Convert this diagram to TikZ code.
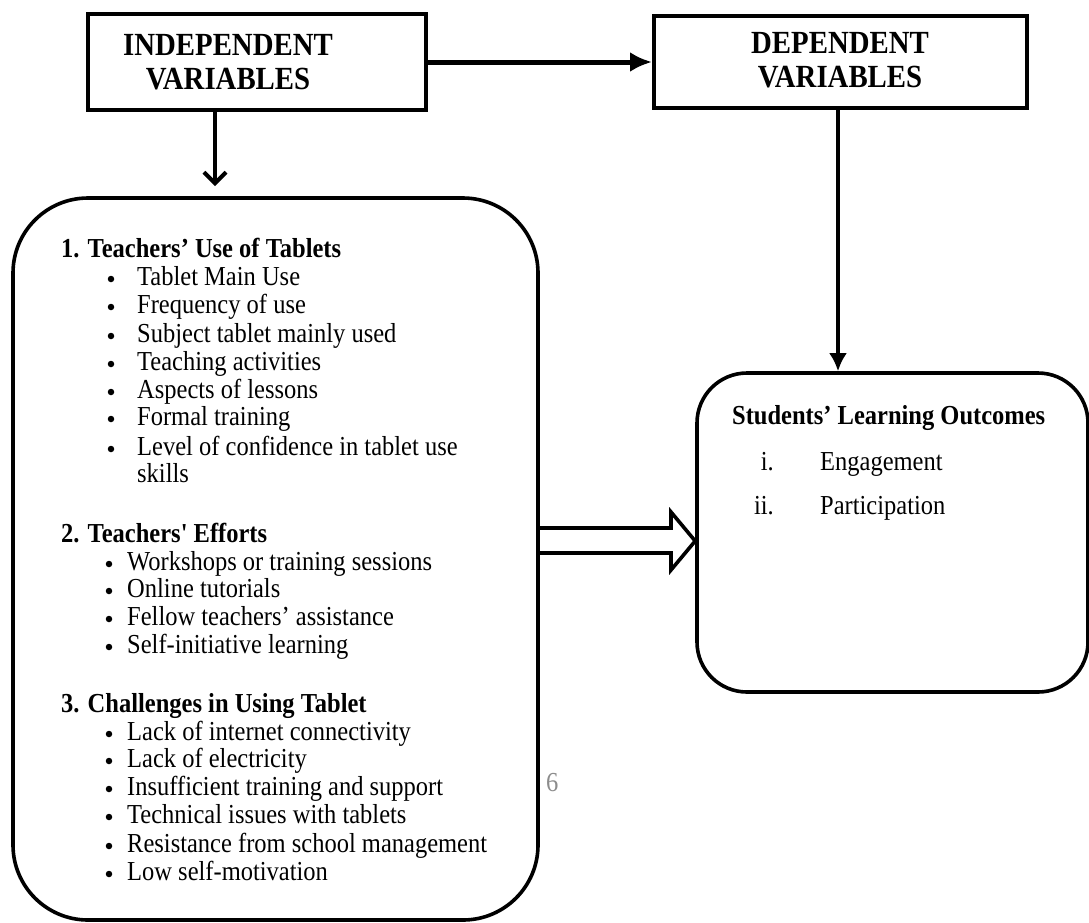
\documentclass[tikz,border=0pt]{standalone}
\usepackage{fontspec}
\usepackage{graphicx}
\setmainfont{Liberation Serif}
\usetikzlibrary{arrows.meta}
\newcommand{\tx}[1]{\scalebox{1}[1.12]{#1}}
\begin{document}
\begin{tikzpicture}[x=1pt,y=-1pt,
  box/.style={draw,line width=4pt,rectangle,inner sep=0pt},
  rbox/.style={draw,line width=3.6pt,rectangle,inner sep=0pt},
  title/.style={anchor=base,font=\fontsize{28.8}{34}\selectfont\bfseries,inner sep=0pt},
  head/.style={anchor=base west,font=\fontsize{24.5}{28}\selectfont\bfseries,inner sep=0pt},
  item/.style={anchor=base west,font=\fontsize{24.5}{28}\selectfont,inner sep=0pt},
  num/.style={anchor=base east,font=\fontsize{24.5}{28}\selectfont,inner sep=0pt},
  bul/.style={circle,fill,inner sep=0pt,minimum size=6.5pt},
  conn/.style={line width=4pt},
]
\useasboundingbox (0,0) rectangle (1089,922);

% top boxes
\node[box,minimum width=338pt,minimum height=96pt] (indep) at (257,62) {};
\node[box,minimum width=373pt,minimum height=92pt] (dep) at (840.5,62) {};
\node[title] (t1) at (228,55) {\tx{INDEPENDENT}};
\node[title] (t2) at (228,89) {\tx{VARIABLES}};
\node[title] (t3) at (840,53) {\tx{DEPENDENT}};
\node[title] (t4) at (840,87) {\tx{VARIABLES}};

% big boxes
\node[rbox,rounded corners=75pt,minimum width=525pt,minimum height=722pt] (big) at (275.5,559) {};
\node[rbox,rounded corners=50pt,minimum width=391pt,minimum height=319pt] (outc) at (892.5,532.5) {};

% connectors
\draw[line width=5pt,-{Latex[length=22pt,width=20pt]}] (indep.east) -- (dep.west);
\coordinate (a1) at (215,186);
\draw[conn,-{Straight Barb[length=11pt,width=22pt]}] (indep.south -| a1) -- (a1);
\coordinate (d1) at (838,0);
\draw[conn,-{Latex[length=18pt,width=18pt]}] (dep.south -| d1) -- (outc.north -| d1);

% hollow arrow
\coordinate (h1) at (671,528);
\coordinate (h2) at (671,553);
\coordinate (h3) at (671,512);
\coordinate (h4) at (671,570);
\coordinate (h5) at (0,541);
\draw[line width=3.6pt,line join=miter] (big.east |- h1) -- (h1) -- (h3) -- (outc.west |- h5) -- (h4) -- (h2) -- (big.east |- h2);

% list 1
\node[head] (h1t) at (61,257) {\tx{1. Teachers' Use of Tablets}};
\node[item] (i11) at (137,285) {\tx{Tablet Main Use}};
\node[item] (i12) at (137,313) {\tx{Frequency of use}};
\node[item] (i13) at (137,342) {\tx{Subject tablet mainly used}};
\node[item] (i14) at (137,370) {\tx{Teaching activities}};
\node[item] (i15) at (137,398) {\tx{Aspects of lessons}};
\node[item] (i16) at (137,425) {\tx{Formal training}};
\node[item] (i17) at (137,455) {\tx{Level of confidence in tablet use}};
\node[item] (i18) at (137,482) {\tx{skills}};
\foreach \y [count=\k] in {285,313,342,370,398,425,455}
  \node[bul] (b1\k) at (111,\y-6) {};

% list 2
\node[head] (h2t) at (61,542) {\tx{2. Teachers\textquotesingle\ Efforts}};
\node[item] (i21) at (127,570) {\tx{Workshops or training sessions}};
\node[item] (i22) at (127,597) {\tx{Online tutorials}};
\node[item] (i23) at (127,625) {\tx{Fellow teachers' assistance}};
\node[item] (i24) at (127,653) {\tx{Self-initiative learning}};
\foreach \y [count=\k] in {570,597,625,653}
  \node[bul] (b2\k) at (109,\y-6) {};

% list 3
\node[head] (h3t) at (61,712) {\tx{3. Challenges in Using Tablet}};
\node[item] (i31) at (127,740) {\tx{Lack of internet connectivity}};
\node[item] (i32) at (127,767) {\tx{Lack of electricity}};
\node[item] (i33) at (127,795) {\tx{Insufficient training and support}};
\node[item] (i34) at (127,823) {\tx{Technical issues with tablets}};
\node[item] (i35) at (127,852) {\tx{Resistance from school management}};
\node[item] (i36) at (127,880) {\tx{Low self-motivation}};
\foreach \y [count=\k] in {740,767,795,823,852,880}
  \node[bul] (b3\k) at (109,\y-6) {};

% page number fragment
\node[item,text=black!45] (pg) at (546,791) {\tx{6}};

% outcomes
\node[head] (oh) at (732,424) {\tx{Students' Learning Outcomes}};
\node[num] (n1) at (774,470) {\tx{i.}};
\node[item] (o1) at (820,470) {\tx{Engagement}};
\node[num] (n2) at (774,514) {\tx{ii.}};
\node[item] (o2) at (820,514) {\tx{Participation}};
\end{tikzpicture}
\end{document}
